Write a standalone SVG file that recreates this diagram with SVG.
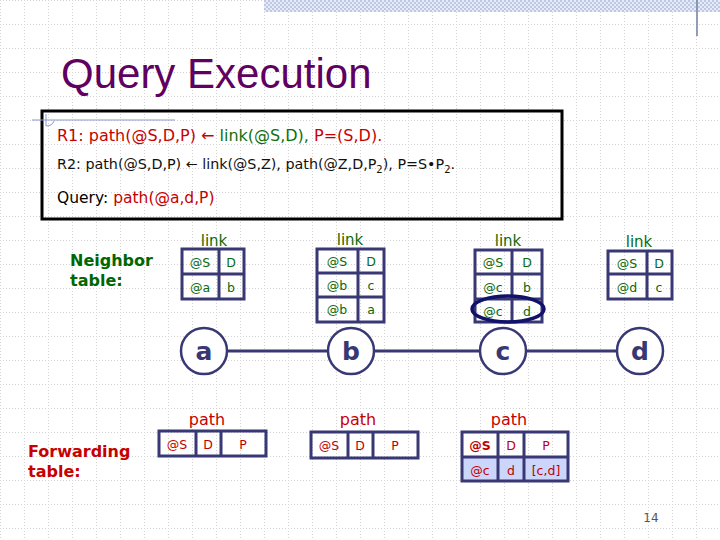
<svg xmlns="http://www.w3.org/2000/svg" width="720" height="540" viewBox="0 0 720 540">
<defs>
<pattern id="grid" width="24" height="24" patternUnits="userSpaceOnUse">
<path d="M0 0.5H24M0.5 0V24" stroke="#d2d2d2" stroke-width="1" stroke-dasharray="1 2" fill="none"/>
</pattern>
<pattern id="check" width="4" height="4" patternUnits="userSpaceOnUse">
<rect width="4" height="4" fill="#e6ebf6"/>
<rect width="2" height="2" fill="#bcc8e4"/>
<rect x="2" y="2" width="2" height="2" fill="#bcc8e4"/>
</pattern>
<style>
.t{font-family:"DejaVu Sans",Verdana,sans-serif}
.tb{stroke:#383874;stroke-width:3;fill:none}
.cellg{font-family:"DejaVu Sans",sans-serif;font-size:12.5px;fill:#0a6a0a;text-anchor:middle}
.cellr{font-family:"DejaVu Sans",sans-serif;font-size:12.5px;fill:#c00000;text-anchor:middle}
.lab{font-family:"DejaVu Sans",sans-serif;font-size:15px;fill:#0a6a0a;text-anchor:middle}
.plab{font-family:"DejaVu Sans",sans-serif;font-size:16px;fill:#c80000;text-anchor:middle}
.node{fill:#fff;stroke:#383874;stroke-width:2.5}
.nl{font-family:"DejaVu Sans",sans-serif;font-weight:bold;font-size:25px;fill:#383874;text-anchor:middle}
.edge{stroke:#383874;stroke-width:3}
</style>
</defs>
<rect width="720" height="540" fill="#fff"/>
<rect width="720" height="540" fill="url(#grid)"/>
<rect x="264" y="0" width="456" height="12" fill="url(#check)"/>
<line x1="697" y1="0" x2="697" y2="36" stroke="#7080a0" stroke-width="1.5"/>

<text x="61" y="88" font-family="Liberation Sans, Arial, sans-serif" font-size="42" fill="#600060">Query Execution</text>

<g id="rules">
<rect x="42" y="111" width="520" height="108" fill="none" stroke="#000" stroke-width="3"/>
<line x1="32" y1="120" x2="175" y2="120" stroke="#8898cc" stroke-width="1"/>
<path d="M46 114 V126 M46 126 Q52 126 54 121" stroke="#8898cc" stroke-width="1" fill="none"/>
<text class="t" x="57" y="141" font-size="16" fill="#c80000">R1: path(@S,D,P) ← <tspan fill="#107010">link(@S,D),</tspan> P=(S,D).</text>
<text class="t" x="57" y="169" font-size="14.3" fill="#111">R2: path(@S,D,P) ← link(@S,Z), path(@Z,D,P<tspan font-size="10" dy="4">2</tspan><tspan dy="-4">), P=S•P</tspan><tspan font-size="10" dy="4">2</tspan><tspan dy="-4">.</tspan></text>
<text class="t" x="57" y="203" font-size="15.5" fill="#000">Query: <tspan fill="#c80000">path(@a,d,P)</tspan></text>
</g>

<text class="t" x="70" y="266" font-size="16" font-weight="bold" fill="#006600">Neighbor</text>
<text class="t" x="70" y="286" font-size="16" font-weight="bold" fill="#006600">table:</text>
<text class="t" x="28" y="457" font-size="16" font-weight="bold" fill="#c80000">Forwarding</text>
<text class="t" x="28" y="477" font-size="16" font-weight="bold" fill="#c80000">table:</text>

<g id="connectors">
<line class="edge" x1="227" y1="351" x2="328" y2="351"/>
<line class="edge" x1="374" y1="351" x2="480" y2="351"/>
<line class="edge" x1="526" y1="351" x2="617" y2="351"/>
</g>

<g id="node-a">
<text class="lab" x="214" y="246">link</text>
<rect class="tb" x="182" y="249" width="62" height="50"/>
<path class="tb" d="M182 274H244M219 249V299"/>
<text class="cellg" x="200" y="267">@S</text><text class="cellg" x="231" y="267">D</text>
<text class="cellg" x="200" y="292">@a</text><text class="cellg" x="231" y="292">b</text>
<circle class="node" cx="204" cy="351" r="23"/>
<text class="nl" x="204" y="360">a</text>
<text class="plab" x="207" y="425">path</text>
<rect class="tb" x="159" y="431" width="107" height="25"/>
<path class="tb" d="M196 431V456M221 431V456"/>
<text class="cellr" x="177" y="449">@S</text><text class="cellr" x="208" y="449">D</text><text class="cellr" x="243" y="449">P</text>
</g>

<g id="node-b">
<text class="lab" x="350" y="245">link</text>
<rect class="tb" x="317" y="249" width="67" height="73"/>
<path class="tb" d="M317 273H384M317 297H384M358 249V322"/>
<text class="cellg" x="337" y="266">@S</text><text class="cellg" x="371" y="266">D</text>
<text class="cellg" x="337" y="290">@b</text><text class="cellg" x="371" y="290">c</text>
<text class="cellg" x="337" y="314">@b</text><text class="cellg" x="371" y="314">a</text>
<circle class="node" cx="351" cy="351" r="23"/>
<text class="nl" x="351" y="360">b</text>
<text class="plab" x="358" y="425">path</text>
<rect class="tb" x="311" y="432" width="107" height="26"/>
<path class="tb" d="M348 432V458M373 432V458"/>
<text class="cellr" x="329" y="450">@S</text><text class="cellr" x="360" y="450">D</text><text class="cellr" x="395" y="450">P</text>
</g>

<g id="node-c">
<text class="lab" x="508" y="246">link</text>
<rect class="tb" x="475" y="250" width="67" height="72"/>
<path class="tb" d="M475 274H542M475 299H542M512 250V322"/>
<text class="cellg" x="493" y="267">@S</text><text class="cellg" x="527" y="267">D</text>
<text class="cellg" x="493" y="292">@c</text><text class="cellg" x="527" y="292">b</text>
<text class="cellg" x="493" y="316">@c</text><text class="cellg" x="527" y="316">d</text>
<ellipse cx="508" cy="309" rx="36" ry="13" fill="none" stroke="#12126a" stroke-width="3.5"/>
<circle class="node" cx="503" cy="351" r="23"/>
<text class="nl" x="503" y="360">c</text>
<text class="plab" x="509" y="425">path</text>
<rect x="462" y="457" width="106" height="24" fill="#ccd6fa"/>
<rect class="tb" x="462" y="432" width="106" height="49"/>
<path class="tb" d="M462 457H568M498 432V481M524 432V481"/>
<text class="cellr" x="480" y="450" font-weight="bold">@S</text><text class="cellr" x="511" y="450">D</text><text class="cellr" x="546" y="450">P</text>
<text class="cellr" x="480" y="475">@c</text><text class="cellr" x="511" y="475">d</text><text class="cellr" x="546" y="475">[c,d]</text>
</g>

<g id="node-d">
<text class="lab" x="639" y="247">link</text>
<rect class="tb" x="608" y="251" width="64" height="48"/>
<path class="tb" d="M608 274H672M647 251V299"/>
<text class="cellg" x="627" y="268">@S</text><text class="cellg" x="659" y="268">D</text>
<text class="cellg" x="627" y="292">@d</text><text class="cellg" x="659" y="292">c</text>
<circle class="node" cx="640" cy="351" r="23"/>
<text class="nl" x="640" y="360">d</text>
</g>

<text x="651" y="522" font-family="DejaVu Sans, sans-serif" font-size="12" fill="#555" text-anchor="middle">14</text>
</svg>
